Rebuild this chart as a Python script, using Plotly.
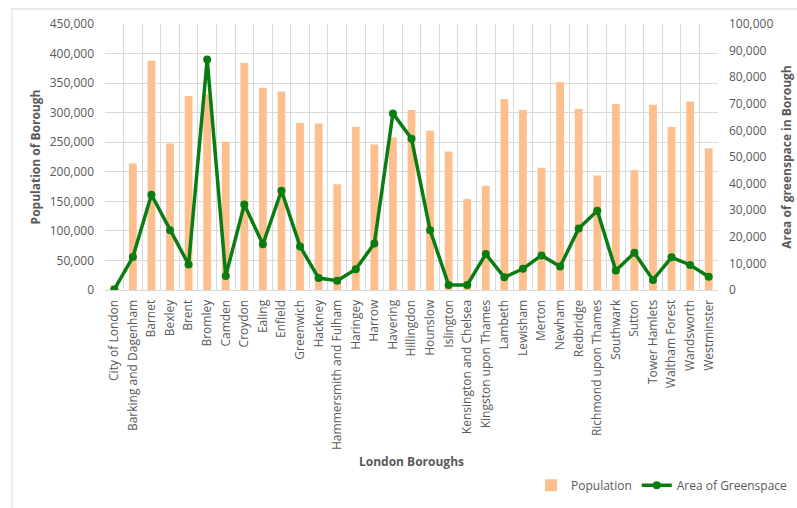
import plotly.graph_objects as go

boroughs = ["City of London", "Barking and Dagenham", "Barnet", "Bexley", "Brent", "Bromley",
            "Camden", "Croydon", "Ealing", "Enfield", "Greenwich", "Hackney",
            "Hammersmith and Fulham", "Haringey", "Harrow", "Havering", "Hillingdon", "Hounslow",
            "Islington", "Kensington and Chelsea", "Kingston upon Thames", "Lambeth", "Lewisham",
            "Merton", "Newham", "Redbridge", "Richmond upon Thames", "Southwark", "Sutton",
            "Tower Hamlets", "Waltham Forest", "Wandsworth", "Westminster"]

population = [8000, 214000, 388000, 248000, 328000, 331000,
              251000, 384000, 342000, 336000, 282500, 281500,
              179000, 276000, 246000, 258000, 304500, 269500,
              234500, 154000, 176500, 323000, 304500,
              207000, 352000, 306500, 193500, 314500, 203000,
              313500, 275800, 319000, 240000]

greenspace = [200, 12400, 35800, 22500, 9600, 86700,
              5300, 32100, 17200, 37300, 16400, 4500,
              3500, 7800, 17500, 66400, 56900, 22500,
              1900, 1900, 13500, 4800, 8000,
              13000, 8800, 23100, 29800, 7300, 14000,
              3800, 12300, 9400, 5000]

pop_ticks = list(range(0, 450001, 50000))
green_ticks = list(range(0, 100001, 10000))

txt = "#595959"
grid = "#D9D9D9"
font_family = "Open Sans, sans-serif"
n = len(boroughs)

fig = go.Figure()
fig.add_trace(go.Bar(x=boroughs, y=population, name="Population",
                     marker=dict(color="#FDBF8E", line=dict(width=0)), yaxis="y"))
fig.add_trace(go.Scatter(x=boroughs, y=greenspace, name="Area of Greenspace", mode="lines+markers",
                         line=dict(color="#0A7D12", width=3.5),
                         marker=dict(color="#0A7D12", size=8), yaxis="y2"))

fig.update_layout(
    width=797, height=508,
    margin=dict(l=105, r=79, t=24, b=218),
    paper_bgcolor="white", plot_bgcolor="white",
    font=dict(family=font_family, size=12, color=txt),
    bargap=0.58,
    showlegend=True,
    legend=dict(orientation="h", xref="container", yref="container", x=0.995, xanchor="right",
                y=0.045, yanchor="middle", bgcolor="rgba(0,0,0,0)",
                font=dict(size=12, color=txt), traceorder="normal", itemwidth=30),
    xaxis=dict(type="category", showgrid=False, tickangle=-90, ticks="", showline=True,
               linecolor=grid, automargin=False, range=[-0.5, n - 0.5],
               tickfont=dict(size=12, color=txt), ticklabelstandoff=4,
               title=dict(text="<b>London Boroughs</b>", font=dict(size=12, color=txt), standoff=8)),
    xaxis2=dict(overlaying="x", range=[-0.5, n - 0.5], tick0=-0.5, dtick=1, showgrid=True,
                gridcolor=grid, gridwidth=1, showticklabels=False, ticks="", zeroline=False,
                showline=False, automargin=False, layer="below traces"),
    yaxis=dict(range=[0, 450000], tickvals=pop_ticks, tickformat=",d", showgrid=True,
               gridcolor=grid, zeroline=False, showline=False, ticks="", automargin=False,
               ticklabelstandoff=10, tickfont=dict(size=12, color=txt),
               title=dict(text="<b>Population of Borough</b>", font=dict(size=12, color=txt), standoff=6)),
    yaxis2=dict(range=[0, 100000], tickvals=green_ticks, tickformat=",d", overlaying="y", side="right",
                showgrid=False, zeroline=False, showline=False, ticks="", automargin=False,
                ticklabelstandoff=10, tickfont=dict(size=12, color=txt),
                title=dict(text="<b>Area of greenspace in Borough</b>", font=dict(size=12, color=txt), standoff=10)),
    shapes=[dict(type="rect", xref="paper", yref="paper", x0=-0.152, x1=1.2, y0=-1.2, y1=1.057,
                 line=dict(color="#E0E0E0", width=1.2), fillcolor="rgba(0,0,0,0)", layer="below")],
)

# invisible helper trace so the boundary grid axis is drawn
fig.add_trace(go.Scatter(x=[-0.5, n - 0.5], y=[None, None], xaxis="x2", yaxis="y",
                         showlegend=False, hoverinfo="skip", mode="lines"))

fig.write_html("out.html")
